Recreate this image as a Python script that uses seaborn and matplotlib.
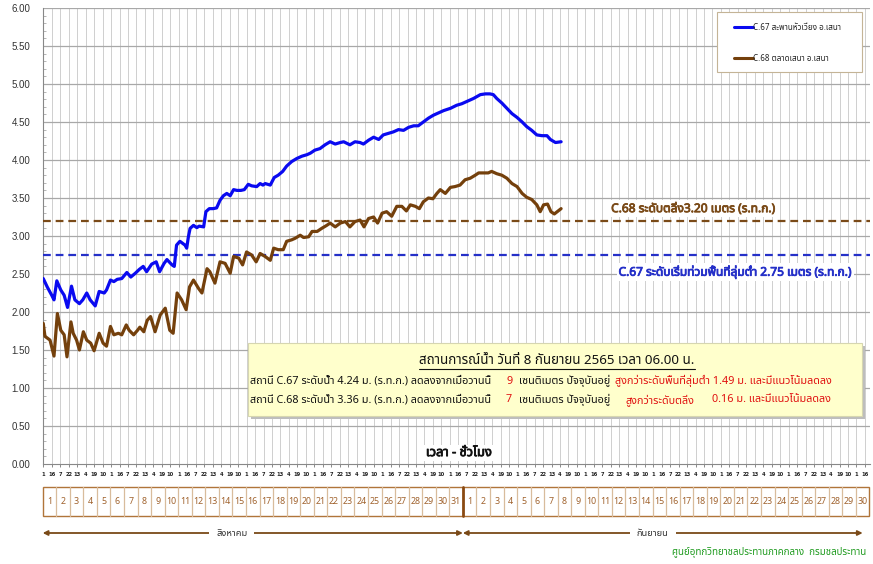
import matplotlib
matplotlib.use("Agg")
import matplotlib.pyplot as plt
import matplotlib.patheffects as pe
import seaborn as sns
import pandas as pd
from matplotlib import font_manager as fm
from matplotlib.transforms import blended_transform_factory
from matplotlib.patches import Rectangle
from matplotlib.lines import Line2D

# ---- data: hours counted from 1 Aug 2565 00:00 ----
c67_hours = [1, 8, 16, 20, 25, 32, 38, 44, 51, 57, 65, 71, 78, 84, 93, 100, 109, 113,
             120, 126, 132, 140, 149, 156, 164, 171, 178, 184, 193, 201, 207, 215, 220,
             229, 233, 237, 243, 252, 255, 258, 261, 267, 273, 277, 285, 289, 295, 302,
             308, 314, 320, 326, 332, 338, 344, 351, 357, 364, 370, 379, 385, 390, 394,
             403, 410, 417, 425, 432, 441, 450, 459, 468, 474, 482, 491, 500, 509, 518,
             527, 533, 544, 553, 562, 568, 577, 586, 595, 603, 612, 621, 630, 639, 648,
             657, 665, 674, 683, 692, 701, 710, 722, 733, 742, 751, 763, 775, 784, 792,
             798, 804, 813, 822, 831, 840, 849, 857, 866, 875, 884, 893, 899, 908, 918]
c67_level = [2.44, 2.33, 2.22, 2.16, 2.41, 2.29, 2.22, 2.06, 2.34, 2.16, 2.11, 2.16, 2.25,
             2.16, 2.08, 2.27, 2.25, 2.29, 2.42, 2.40, 2.43, 2.44, 2.52, 2.46, 2.51, 2.56,
             2.60, 2.53, 2.63, 2.66, 2.53, 2.64, 2.69, 2.62, 2.60, 2.88, 2.93, 2.88, 2.84,
             2.99, 3.10, 3.14, 3.11, 3.13, 3.12, 3.32, 3.36, 3.36, 3.37, 3.47, 3.53, 3.56,
             3.53, 3.61, 3.60, 3.60, 3.61, 3.68, 3.66, 3.65, 3.69, 3.67, 3.69, 3.67, 3.77,
             3.80, 3.85, 3.92, 3.98, 4.02, 4.05, 4.07, 4.09, 4.13, 4.15, 4.20, 4.24, 4.21,
             4.23, 4.24, 4.20, 4.24, 4.23, 4.21, 4.26, 4.30, 4.27, 4.33, 4.35, 4.37, 4.40,
             4.39, 4.43, 4.45, 4.45, 4.50, 4.55, 4.59, 4.62, 4.65, 4.68, 4.72, 4.74, 4.77,
             4.81, 4.86, 4.87, 4.87, 4.86, 4.81, 4.75, 4.68, 4.61, 4.56, 4.50, 4.44, 4.39,
             4.33, 4.32, 4.32, 4.27, 4.23, 4.24]

c68_hours = [1, 4, 13, 20, 26, 32, 38, 43, 50, 54, 60, 65, 72, 78, 85, 91, 100, 107, 113,
             120, 126, 134, 140, 148, 153, 161, 168, 172, 179, 185, 191, 199, 208, 217,
             225, 231, 238, 246, 254, 260, 267, 276, 282, 291, 296, 305, 314, 323, 332,
             338, 347, 354, 361, 370, 378, 385, 394, 403, 409, 417, 426, 432, 441, 447,
             456, 462, 471, 477, 486, 494, 503, 509, 518, 527, 536, 544, 553, 562, 569,
             577, 586, 593, 601, 609, 618, 627, 636, 644, 651, 660, 667, 674, 683, 691,
             698, 704, 713, 722, 730, 739, 748, 757, 766, 772, 781, 789, 795, 804, 813,
             822, 831, 840, 849, 857, 866, 875, 881, 887, 894, 900, 906, 918]
c68_level = [1.85, 1.68, 1.63, 1.42, 1.98, 1.76, 1.70, 1.41, 1.87, 1.72, 1.63, 1.50, 1.74,
             1.63, 1.59, 1.49, 1.72, 1.59, 1.55, 1.81, 1.70, 1.72, 1.70, 1.83, 1.76, 1.70,
             1.76, 1.80, 1.74, 1.89, 1.94, 1.74, 1.96, 2.05, 1.76, 1.72, 2.25, 2.16, 2.03,
             2.33, 2.42, 2.31, 2.25, 2.57, 2.53, 2.38, 2.66, 2.64, 2.51, 2.73, 2.71, 2.62,
             2.79, 2.75, 2.66, 2.77, 2.73, 2.68, 2.84, 2.82, 2.82, 2.93, 2.95, 2.97, 3.01,
             2.98, 2.99, 3.06, 3.06, 3.10, 3.14, 3.17, 3.12, 3.17, 3.19, 3.12, 3.19, 3.21,
             3.12, 3.23, 3.25, 3.17, 3.30, 3.32, 3.26, 3.39, 3.39, 3.33, 3.41, 3.39, 3.36,
             3.45, 3.50, 3.49, 3.56, 3.61, 3.56, 3.64, 3.65, 3.67, 3.74, 3.76, 3.80, 3.83,
             3.83, 3.83, 3.85, 3.82, 3.80, 3.76, 3.69, 3.65, 3.56, 3.51, 3.48, 3.41, 3.32,
             3.41, 3.42, 3.32, 3.29, 3.36]

c67_name = "C.67 สะพานหัวเวียง อ.เสนา"
c68_name = "C.68 ตลาดเสนา อ.เสนา"
c68_bank = 3.20          # bank level of C.68
c67_lowland = 2.75       # low-land flooding level of C.67
c67_change_cm = 9
c68_change_cm = 7

hour_tick_cycle = [1, 16, 7, 22, 13, 4, 19, 10]
aug_days = list(range(1, 32))
sep_days = list(range(1, 31))
month_names = ["สิงหาคม", "กันยายน"]
report_title = "สถานการณ์น้ำ วันที่ 8 กันยายน 2565 เวลา 06.00 น."
axis_title = "เวลา - ชั่วโมง"
footer = "ศูนย์อุทกวิทยาชลประทานภาคกลาง  กรมชลประทาน"


def thai_family():
    try:
        from fontTools.ttLib import TTFont
    except ImportError:
        return None
    found = []
    for f in fm.fontManager.ttflist:
        try:
            tt = TTFont(f.fname, fontNumber=0, lazy=True)
            cmap = tt.getBestCmap() or {}
            if 0x0E01 in cmap and 0x0E49 in cmap:
                found.append(f.name)
        except Exception:
            continue
    for p in ["Tahoma", "Noto Sans Thai", "Noto Sans Thai UI", "Loma", "Garuda",
              "Sarabun", "Waree", "Umpush", "Kinnari", "Norasi"]:
        if p in found:
            return p
    return found[0] if found else None


sns.set_theme(style="white")
thai = thai_family()
families = ([thai] if thai else []) + ["DejaVu Sans"]
plt.rcParams["font.family"] = families

W, H = 873, 564
fig = plt.figure(figsize=(W / 100, H / 100), dpi=100)
fig.patch.set_facecolor("white")


def fx(px):
    return px / W


def fy(py):
    return 1 - py / H


def heavy(color, w=0.6):
    return [pe.withStroke(linewidth=w, foreground=color)]


ax = fig.add_axes([fx(42.7), fy(464), fx(870) - fx(42.7), fy(8) - fy(464)])
ax.set_facecolor("white")

BLUE = "#0A0AF0"
BROWN = "#74400C"
BROWN_DASH = "#7A4A18"
BLUE_DASH = "#2530C8"

df67 = pd.DataFrame({"hour": c67_hours, "level": c67_level})
df68 = pd.DataFrame({"hour": c68_hours, "level": c68_level})
sns.lineplot(data=df68, x="hour", y="level", ax=ax, color=BROWN, lw=2.3, zorder=4)
sns.lineplot(data=df67, x="hour", y="level", ax=ax, color=BLUE, lw=2.3, zorder=5)

ax.axhline(c68_bank, color=BROWN_DASH, lw=1.6, ls=(0, (3.5, 2.2)), zorder=3)
ax.axhline(c67_lowland, color=BLUE_DASH, lw=1.6, ls=(0, (3.5, 2.2)), zorder=3)

ax.set_xlim(0, 1465)
ax.set_ylim(0, 6)
ticks_x = [1 + 15 * k for k in range(98)]
ax.set_xticks(ticks_x)
ax.set_xticklabels([str(hour_tick_cycle[k % 8]) for k in range(len(ticks_x))],
                   fontsize=3.7, fontweight="bold", color="#222222", family="DejaVu Sans")
ax.set_yticks([i * 0.5 for i in range(13)])
ax.set_yticklabels([f"{i * 0.5:.2f}" for i in range(13)], fontsize=7, color="#333333",
                   family="Liberation Sans")
ax.set_yticks([i * 0.1 for i in range(61)], minor=True)
ax.tick_params(axis="x", direction="inout", length=4, width=0.6, color="#777777", pad=4,
               bottom=True)
ax.tick_params(axis="y", which="major", direction="in", length=4, width=0.6,
               color="#888888", pad=9, left=True)
ax.tick_params(axis="y", which="minor", direction="in", length=2.5, width=0.5,
               color="#999999", left=True)
ax.set_xlabel("")
ax.set_ylabel("")

for x in ticks_x:
    ax.axvline(x, color="#CFCFCF", lw=0.7, zorder=1)
for y in [i * 0.5 for i in range(1, 13)]:
    ax.axhline(y, color="#A8A8A8", lw=0.9, zorder=1)
for s in ["top", "right"]:
    ax.spines[s].set_visible(False)
for s in ["left", "bottom"]:
    ax.spines[s].set_color("#888888")
    ax.spines[s].set_linewidth(0.8)

# reference-level labels
ax.text(1152, 3.36, f"C.68 ระดับตลิ่ง{c68_bank:.2f} เมตร (ร.ท.ก.)", color=BROWN_DASH,
        fontsize=8.6, ha="center", va="center", zorder=6, path_effects=heavy(BROWN_DASH),
        bbox=dict(facecolor="white", edgecolor="none", pad=1.5))
ax.text(1226, 2.53, f"C.67 ระดับเริ่มท่วมพื้นที่ลุ่มต่ำ {c67_lowland:.2f} เมตร (ร.ท.ก.)",
        color=BLUE_DASH, fontsize=8.6, ha="center", va="center", zorder=6,
        path_effects=heavy(BLUE_DASH),
        bbox=dict(facecolor="white", edgecolor="none", pad=1.5))
ax.text(737, 0.15, axis_title, fontsize=9.3, ha="center", va="center",
        color="#111111", zorder=6, path_effects=heavy("#111111"),
        bbox=dict(facecolor="white", edgecolor="none", pad=1))

# legend
fig.add_artist(Rectangle((fx(717), fy(72)), fx(862) - fx(717), fy(12) - fy(72),
                         transform=fig.transFigure, facecolor="white",
                         edgecolor="#C4B496", lw=0.8, zorder=7))
handles = [Line2D([], [], color=BLUE, lw=2.2), Line2D([], [], color=BROWN, lw=2.2)]
leg = fig.legend(handles, [c67_name, c68_name], loc="center left",
                 bbox_to_anchor=(fx(730), fy(43)), frameon=False, fontsize=5.8,
                 handlelength=2.3, handletextpad=0.0, labelspacing=2.7, borderpad=0)
leg.set_zorder(8)

# situation box
bx0, by0, bx1, by1 = 248, 343, 862, 416
fig.add_artist(Rectangle((fx(bx0 + 3), fy(by1 + 3)), fx(bx1) - fx(bx0), fy(by0) - fy(by1),
                         transform=fig.transFigure, facecolor="#BDBDBD", edgecolor="none",
                         zorder=8))
fig.add_artist(Rectangle((fx(bx0), fy(by1)), fx(bx1) - fx(bx0), fy(by0) - fy(by1),
                         transform=fig.transFigure, facecolor="#FFFFCC",
                         edgecolor="#D6D6B0", lw=0.8, zorder=9))
RED = "#E01010"
title_t = fig.text(fx(557), fy(360), report_title, fontsize=9.6, ha="center", va="center",
                   color="#111111", zorder=10)

renderer = fig.canvas.get_renderer()
last67 = c67_level[-1]
last68 = c68_level[-1]
rows = [
    (381, [(250, f"สถานี C.67 ระดับน้ำ {last67:.2f} ม. (ร.ท.ก.) ลดลงจากเมื่อวานนี้", "#111111"),
           (506, f"{c67_change_cm}", RED),
           (519, "เซนติเมตร ปัจจุบันอยู่", "#111111"),
           (612, f"สูงกว่าระดับพื้นที่ลุ่มต่ำ {last67 - c67_lowland:.2f} ม. และมีแนวโน้มลดลง", RED)]),
    (400, [(250, f"สถานี C.68 ระดับน้ำ {last68:.2f} ม. (ร.ท.ก.) ลดลงจากเมื่อวานนี้", "#111111"),
           (506, f"{c68_change_cm}", RED),
           (519, "เซนติเมตร ปัจจุบันอยู่", "#111111"),
           (626, "สูงกว่าระดับตลิ่ง", RED),
           (712, f"{last68 - c68_bank:.2f} ม. และมีแนวโน้มลดลง", RED)]),
]
for py, segs in rows:
    prev_end = 0
    for px, txt, col in segs:
        x0 = max(px, prev_end + 5)
        t = fig.text(fx(x0), fy(py), txt, fontsize=7.8, ha="left", va="center", color=col,
                     zorder=10)
        prev_end = t.get_window_extent(renderer).x1

# underline for the box title
bb = title_t.get_window_extent(renderer)
fig.add_artist(Line2D([bb.x0 / W, bb.x1 / W], [fy(369), fy(369)], transform=fig.transFigure,
                      color="#111111", lw=0.8, zorder=10))

# day boxes below the axis
tr = blended_transform_factory(ax.transData, fig.transFigure)
box_top, box_bot = fy(487), fy(516)
BOX_EDGE = "#B0753A"
DIV = "#D8BC9C"
days = [(d, (d - 1) * 24) for d in aug_days] + [(d, 744 + (d - 1) * 24) for d in sep_days]
for d, h0 in days:
    if h0 > 0 and h0 != 744:
        fig.add_artist(Line2D([h0, h0], [box_bot, box_top], transform=tr, color=DIV, lw=0.9))
    fig.text(h0 + 12, fy(501), str(d), transform=tr, fontsize=6.4, color="#A0622D",
             ha="center", va="center")
end_h = 744 + 30 * 24
fig.add_artist(Rectangle((0, box_bot), end_h, box_top - box_bot, transform=tr,
                         facecolor="none", edgecolor=BOX_EDGE, lw=1.0))
fig.add_artist(Line2D([744, 744], [box_bot, box_top], transform=tr, color="#8A4A12", lw=2))

# month arrows
ARROW = "#7A4A18"
ay = fy(533)
for (h0, h1), name, hc in zip([(0, 744), (744, 1452)], month_names, [335, 1080]):
    ax.annotate("", xy=(h0, ay), xytext=(h1, ay), xycoords=tr, textcoords=tr,
                arrowprops=dict(arrowstyle="<|-|>", color=ARROW, lw=1.3,
                                mutation_scale=7, shrinkA=0, shrinkB=0),
                annotation_clip=False)
    fig.text(hc, ay, name, transform=tr, fontsize=6.7, color="#333333", ha="center",
             va="center", bbox=dict(facecolor="white", edgecolor="none", pad=5))

fig.text(fx(866), fy(553), footer, fontsize=7, color="#1E9A1E", ha="right", va="center")

fig.savefig("out.png", dpi=100, facecolor="white")
